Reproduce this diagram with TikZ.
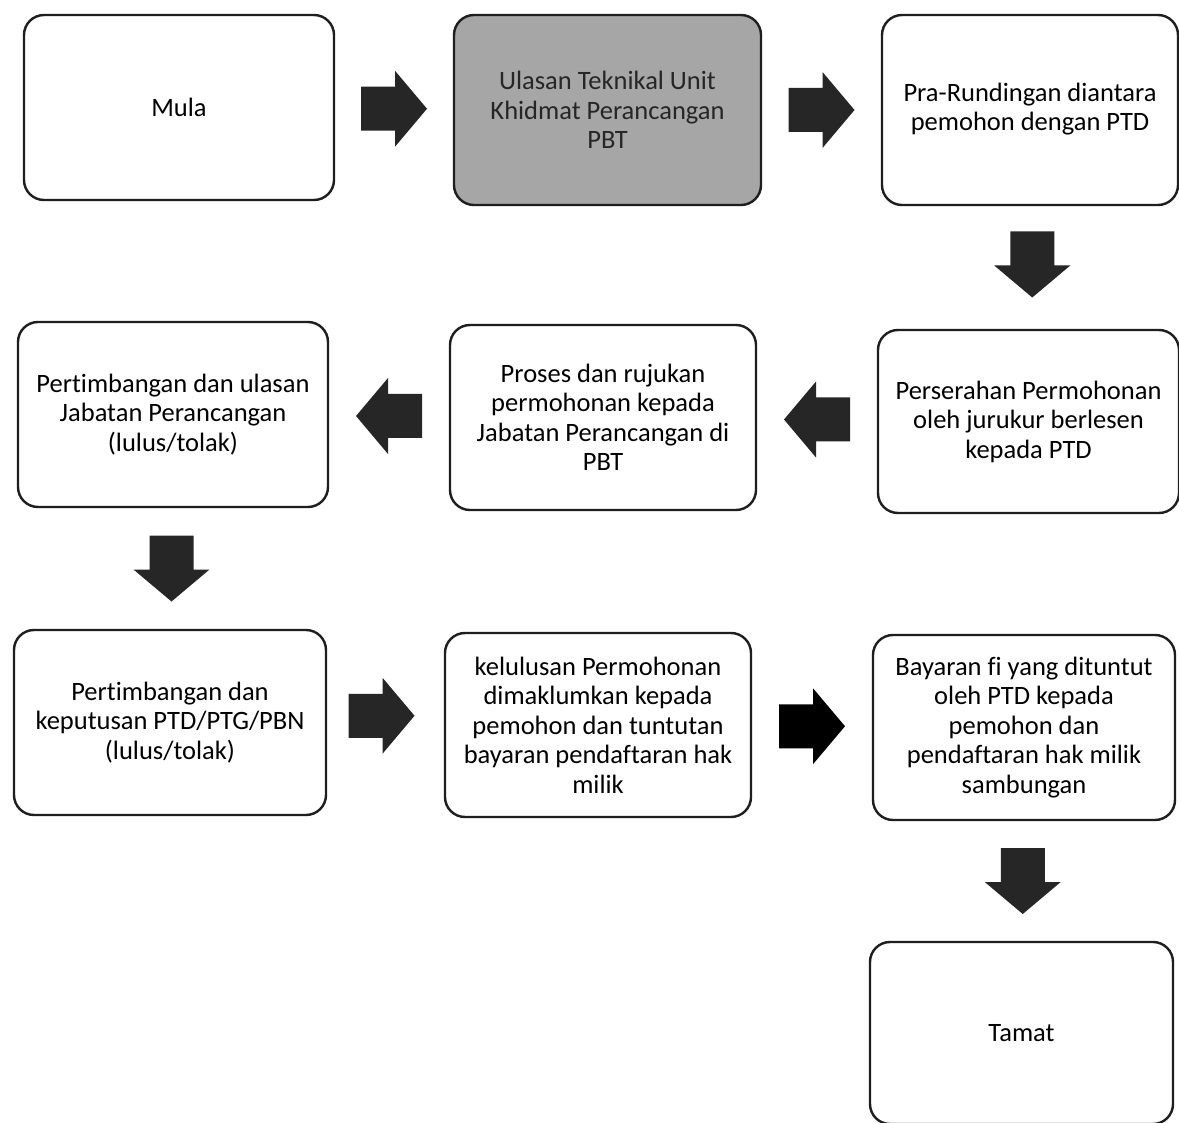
\documentclass[tikz,border=0pt]{standalone}
\usepackage{fontspec}
\setmainfont{Carlito}[Ligatures=NoCommon]
\usetikzlibrary{calc}
\definecolor{boxline}{HTML}{1E1E1E}
\definecolor{grayfill}{HTML}{A6A6A6}
\definecolor{graytext}{HTML}{262626}
\definecolor{arrowfill}{HTML}{262626}
\tikzset{
  stagebox/.style={draw=boxline, line width=2.4pt, rounded corners=20pt, fill=white,
    align=center, inner sep=0pt, font=\fontsize{26.5}{29.5}\selectfont, text=black},
  shadedbox/.style={stagebox, fill=grayfill, text=graytext},
  pics/blockarrow/.style={code={
    \fill[#1] (-33,-22) -- (1,-22) -- (1,-38) -- (33,0) -- (1,38) -- (1,22) -- (-33,22) -- cycle;}},
  pics/blockarrow/.default=arrowfill
}
\begin{document}
\begin{tikzpicture}[x=1pt,y=-1pt]
\useasboundingbox (0,0) rectangle (1179,1123);
\fill[white] (0,0) rectangle (1179,1123);

\node[stagebox, minimum width=310pt, minimum height=185pt] (mula) at (179,107.5) {Mula};
\node[shadedbox, minimum width=307pt, minimum height=190pt] (ulasan) at (607.5,110) {Ulasan Teknikal Unit\\Khidmat Perancangan\\PBT};
\node[stagebox, minimum width=296pt, minimum height=190pt, inner xsep=5pt, text depth=6pt] (pra) at (1030,110) {Pra-Rundingan diantara\\pemohon dengan PTD};
\node[stagebox, minimum width=301pt, minimum height=183pt] (serah) at (1028.5,421.5) {Perserahan Permohonan\\oleh jurukur berlesen\\kepada PTD};
\node[stagebox, minimum width=306pt, minimum height=185pt] (proses) at (603,417.5) {Proses dan rujukan\\permohonan kepada\\Jabatan Perancangan di\\PBT};
\node[stagebox, minimum width=310pt, minimum height=185pt] (timbang) at (173,414.5) {Pertimbangan dan ulasan\\Jabatan Perancangan\\(lulus/tolak)};
\node[stagebox, minimum width=312pt, minimum height=185pt] (putus) at (170,722.5) {Pertimbangan dan\\keputusan PTD/PTG/PBN\\(lulus/tolak)};
\node[stagebox, minimum width=306pt, minimum height=184pt] (lulus) at (598,725) {kelulusan Permohonan\\dimaklumkan kepada\\pemohon dan tuntutan\\bayaran pendaftaran hak\\milik};
\node[stagebox, minimum width=302pt, minimum height=185pt] (bayar) at (1024,727.5) {Bayaran fi yang dituntut\\oleh PTD kepada\\pemohon dan\\pendaftaran hak milik\\sambungan};
\node[stagebox, minimum width=303pt, minimum height=182pt] (tamat) at (1021.5,1033) {Tamat};

\pic at ($(mula.east)!0.5!(ulasan.west)$) {blockarrow};
\pic at ($(ulasan.east)!0.5!(pra.west)$) {blockarrow};
\pic[rotate=-90] at ($(pra.south)!0.5!(serah.north)+(3,-3)$) {blockarrow};
\pic[rotate=180] at ($(proses.east)!0.5!(serah.west)$) {blockarrow};
\pic[rotate=180] at ($(timbang.east)!0.5!(proses.west)$) {blockarrow};
\pic[rotate=-90] at ($(timbang.south)!0.5!(putus.north)$) {blockarrow};
\pic at ($(putus.east)!0.5!(lulus.west)+(-4,-8)$) {blockarrow};
\pic at ($(lulus.east)!0.5!(bayar.west)$) {blockarrow=black};
\pic[rotate=-90] at ($(bayar.south)!0.5!(tamat.north)$) {blockarrow};
\end{tikzpicture}
\end{document}
